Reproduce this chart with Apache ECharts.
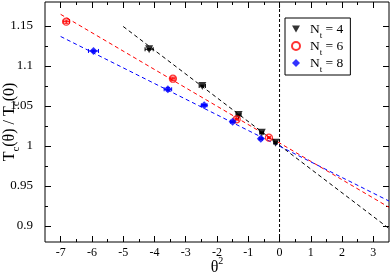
<!DOCTYPE html>
<html><head><meta charset="utf-8">
<script src="https://cdn.jsdelivr.net/npm/echarts@6/dist/echarts.min.js"></script>
<style>html,body{margin:0;padding:0;background:#fff}#c{width:390px;height:275px}</style>
</head><body><div id="c"></div>
<script>
// ---- data ----
const nt4X = [-4.17, -2.47, -1.31, -0.57, -0.13];
const nt4Y = [1.1209, 1.0750, 1.0388, 1.0166, 1.0041];
const nt4XErr = [0.13, 0.10, 0.08, 0.06, 0.05];
const nt4YErr = [0.001, 0.001, 0.001, 0.001, 0.001];

const nt6X = [-6.82, -3.41, -1.37, -0.34];
const nt6Y = [1.1554, 1.0841, 1.0334, 1.0104];
const nt6XErr = [0.10, 0.07, 0.05, 0.04];
const nt6YErr = [0.002, 0.002, 0.001, 0.001];

const nt8X = [-5.95, -3.57, -2.41, -1.50, -0.60];
const nt8Y = [1.1188, 1.0709, 1.0509, 1.0304, 1.0091];
const nt8XErr = [0.16, 0.12, 0.09, 0.07, 0.05];
const nt8YErr = [0.001, 0.002, 0.001, 0.001, 0.001];

const fit4X = [-5, 3.5],  fit4Y = [1.1494, 0.8969];
const fit6X = [-7, 3.5],  fit6Y = [1.1646, 0.9234];
const fit8X = [-7, 3.5],  fit8Y = [1.1369, 0.9312];

const zeroLineX = [0, 0], zeroLineY = [0.88, 1.18];

const xRange = [-7.5, 3.5], yRange = [0.88, 1.18];
const xTickRange = [-7, 3], yTickRange = [0.9, 1.15];
const seriesNames = ['N_t = 4', 'N_t = 6', 'N_t = 8'];
const legendLabels = ['4', '6', '8'];

// ---- chart ----
const FONT = 'Liberation Serif';
const zip = (a, b) => a.map((v, i) => [v, b[i]]);
const G = {left: 45, right: 1, top: 2, bottom: 33, outerBoundsMode: 'none'};
const pxPerX = (390 - G.left - G.right) / (xRange[1] - xRange[0]);
const pxPerY = (275 - G.top - G.bottom) / (yRange[1] - yRange[0]);
const gridX = {left: G.left + (xTickRange[0] - xRange[0]) * pxPerX, right: G.right + (xRange[1] - xTickRange[1]) * pxPerX, top: G.top, bottom: G.bottom, outerBoundsMode: 'none'};
const gridY = {left: G.left, right: G.right, top: G.top + (yRange[1] - yTickRange[1]) * pxPerY, bottom: G.bottom + (yTickRange[0] - yRange[0]) * pxPerY, outerBoundsMode: 'none'};

function errSeries(xs, ys, xe, ye, color) {
  return {
    type: 'custom', xAxisIndex: 0, yAxisIndex: 0, silent: true, z: 3,
    data: xs.map((x, i) => [x, ys[i], xe[i], ye[i]]),
    renderItem(params, api) {
      const x = api.value(0), y = api.value(1), ex = api.value(2), ey = api.value(3);
      const l = api.coord([x - ex, y]), r = api.coord([x + ex, y]);
      const t = api.coord([x, y + ey]), b = api.coord([x, y - ey]);
      const st = {stroke: color, lineWidth: 1};
      return {type: 'group', children: [
        {type: 'line', shape: {x1: l[0], y1: l[1], x2: r[0], y2: r[1]}, style: st},
        {type: 'line', shape: {x1: l[0], y1: l[1] - 2, x2: l[0], y2: l[1] + 2}, style: st},
        {type: 'line', shape: {x1: r[0], y1: r[1] - 2, x2: r[0], y2: r[1] + 2}, style: st},
        {type: 'line', shape: {x1: t[0], y1: t[1], x2: b[0], y2: b[1]}, style: st},
        {type: 'line', shape: {x1: t[0] - 2, y1: t[1], x2: t[0] + 2, y2: t[1]}, style: st},
        {type: 'line', shape: {x1: b[0] - 2, y1: b[1], x2: b[0] + 2, y2: b[1]}, style: st}
      ]};
    }
  };
}
function fitLine(xs, ys, color) {
  return {type: 'line', xAxisIndex: 0, yAxisIndex: 0, data: zip(xs, ys), symbol: 'none', silent: true, z: 2,
    lineStyle: {color, width: 1, type: [4, 3]}};
}
const tickStyle = {color: '#000', width: 1};

const option = {
  animation: false,
  backgroundColor: '#fff',
  grid: [
    Object.assign({show: true, borderColor: '#000', borderWidth: 1, backgroundColor: 'transparent'}, G),
    gridX, gridY
  ],
  xAxis: [
    {gridIndex: 0, type: 'value', min: xRange[0], max: xRange[1], axisLine: {show: false}, axisTick: {show: false}, axisLabel: {show: false}, splitLine: {show: false},
     name: '{a|θ}{s|2}', nameLocation: 'middle', nameGap: 14,
     nameTextStyle: {rich: {a: {fontFamily: FONT, fontSize: 16, color: '#000', verticalAlign: 'bottom', lineHeight: 20},
                            s: {fontFamily: FONT, fontSize: 10, color: '#000', verticalAlign: 'top', lineHeight: 10}}}},
    {gridIndex: 1, type: 'value', position: 'bottom', min: xTickRange[0], max: xTickRange[1], interval: 1,
     axisLine: {show: false}, splitLine: {show: false},
     axisTick: {show: true, inside: true, length: 6, lineStyle: tickStyle},
     minorTick: {show: true, splitNumber: 2, length: 3, lineStyle: tickStyle},
     axisLabel: {show: true, margin: 5, color: '#000', fontFamily: FONT, fontSize: 12}},
    {gridIndex: 1, type: 'value', position: 'top', min: xTickRange[0], max: xTickRange[1], interval: 1,
     axisLine: {show: false}, splitLine: {show: false},
     axisTick: {show: true, inside: true, length: 6, lineStyle: tickStyle},
     minorTick: {show: true, splitNumber: 2, length: 3, lineStyle: tickStyle},
     axisLabel: {show: false}},
    {gridIndex: 2, type: 'value', min: 0, max: 1, show: false}
  ],
  yAxis: [
    {gridIndex: 0, type: 'value', min: yRange[0], max: yRange[1], axisLine: {show: false}, axisTick: {show: false}, axisLabel: {show: false}, splitLine: {show: false},
     name: '{a|T}{s|c}{a|(θ) / T}{s|c}{a|(0)}', nameLocation: 'middle', nameGap: 27, nameRotate: 90,
     nameTextStyle: {rich: {a: {fontFamily: FONT, fontSize: 16, color: '#000', verticalAlign: 'top', lineHeight: 16},
                            s: {fontFamily: FONT, fontSize: 11, color: '#000', verticalAlign: 'bottom', lineHeight: 11, padding: [0, 0, -4, 0]}}}},
    {gridIndex: 1, type: 'value', min: 0, max: 1, show: false},
    {gridIndex: 2, type: 'value', position: 'left', min: yTickRange[0], max: yTickRange[1], interval: 0.05,
     axisLine: {show: false}, splitLine: {show: false},
     axisTick: {show: true, inside: true, length: 6, lineStyle: tickStyle},
     minorTick: {show: true, splitNumber: 2, length: 3, lineStyle: tickStyle},
     axisLabel: {show: true, margin: 12, color: '#000', fontFamily: FONT, fontSize: 13}},
    {gridIndex: 2, type: 'value', position: 'right', min: yTickRange[0], max: yTickRange[1], interval: 0.05,
     axisLine: {show: false}, splitLine: {show: false},
     axisTick: {show: true, inside: true, length: 6, lineStyle: tickStyle},
     minorTick: {show: true, splitNumber: 2, length: 3, lineStyle: tickStyle},
     axisLabel: {show: false}}
  ],
  legend: {
    data: seriesNames, orient: 'vertical', left: 285, top: 18,
    padding: [4, 7, 1, 6], itemGap: -1, itemWidth: 8, itemHeight: 8,
    backgroundColor: '#fff', borderColor: '#000', borderWidth: 1, borderRadius: 0,
    formatter: name => '{n|N}{t|t}{n| = ' + legendLabels[seriesNames.indexOf(name)] + '}',
    textStyle: {padding: [0, 0, 0, 5], rich: {
      n: {fontFamily: FONT, fontSize: 13.5, color: '#000', verticalAlign: 'top', lineHeight: 14},
      t: {fontFamily: FONT, fontSize: 9, color: '#000', verticalAlign: 'bottom', lineHeight: 9, padding: [0, 0, -4, 0]}
    }}
  },
  series: [
    {type: 'line', name: 'zero', xAxisIndex: 0, yAxisIndex: 0, data: zip(zeroLineX, zeroLineY), symbol: 'none', silent: true,
     lineStyle: {color: '#000', width: 1, type: [3, 2]}, z: 1},
    fitLine(fit4X, fit4Y, '#000'),
    fitLine(fit6X, fit6Y, '#ff0000'),
    fitLine(fit8X, fit8Y, '#0000ff'),
    errSeries(nt4X, nt4Y, nt4XErr, nt4YErr, '#000'),
    errSeries(nt6X, nt6Y, nt6XErr, nt6YErr, '#ff0000'),
    errSeries(nt8X, nt8Y, nt8XErr, nt8YErr, '#0000ff'),
    {type: 'scatter', name: seriesNames[0], xAxisIndex: 0, yAxisIndex: 0, data: zip(nt4X, nt4Y), z: 5,
     symbol: 'path://M0,0 L10,0 L5,9 Z', symbolSize: 8, itemStyle: {color: '#000'}},
    {type: 'scatter', name: seriesNames[1], xAxisIndex: 0, yAxisIndex: 0, data: zip(nt6X, nt6Y), z: 5,
     symbol: 'circle', symbolSize: 7, itemStyle: {color: 'rgba(255,255,255,0)', borderColor: '#ff0000', borderWidth: 1.3}},
    {type: 'scatter', name: seriesNames[2], xAxisIndex: 0, yAxisIndex: 0, data: zip(nt8X, nt8Y), z: 5,
     symbol: 'diamond', symbolSize: 8, itemStyle: {color: '#0000ff'}}
  ]
};
const chart = echarts.init(document.getElementById('c'), null, {renderer: 'canvas'});
chart.setOption(option);
</script>
</body></html>
